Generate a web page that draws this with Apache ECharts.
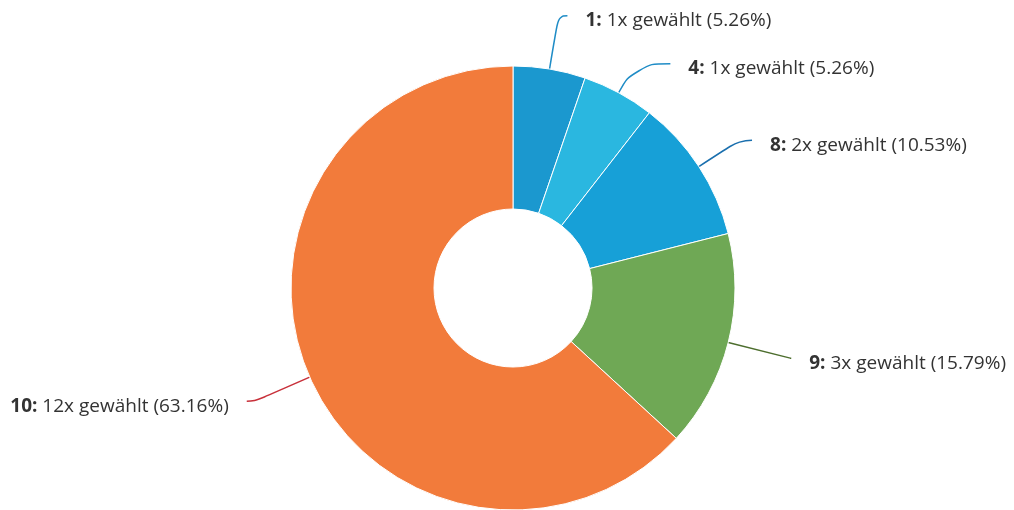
<!DOCTYPE html>
<html>
<head>
<meta charset="utf-8">
<script src="https://cdn.jsdelivr.net/npm/echarts@6/dist/echarts.min.js"></script>
<style>
  html, body { margin: 0; padding: 0; background: #fff; }
  #chart { width: 1014px; height: 510px; }
</style>
</head>
<body>
<div id="chart"></div>
<script>
// Answer options and how often each was chosen
const categories = ['1', '4', '8', '9', '10'];
const counts = [1, 1, 2, 3, 12];
const percents = [5.26, 5.26, 10.53, 15.79, 63.16];

// Slice and connector styling
const sliceColors = ['#1b98cf', '#2ab7e0', '#17a0d7', '#6fa855', '#f27b3b'];
const lineColors = ['#1f8cc6', '#1f8cc6', '#1a6fae', '#4d6e2e', '#c8303a'];
const connectorLengths = [[54, 9], [33, 36], [48, 13], [64, 1], [60, 8]];

const data = categories.map((name, i) => ({
  name: name,
  value: counts[i],
  pct: percents[i],
  itemStyle: { color: sliceColors[i] },
  labelLine: {
    length: connectorLengths[i][0],
    length2: connectorLengths[i][1],
    lineStyle: { color: lineColors[i] }
  }
}));

const chart = echarts.init(document.getElementById('chart'), null, { renderer: 'canvas' });
chart.setOption({
  animation: false,
  series: [{
    type: 'pie',
    center: [513, 288],
    radius: [79, 222],
    startAngle: 90,
    clockwise: true,
    avoidLabelOverlap: false,
    data: data,
    itemStyle: { borderColor: '#ffffff', borderWidth: 1 },
    label: {
      show: true,
      position: 'outside',
      distanceToLabelLine: 18,
      padding: [10, 0, 0, 0],
      fontFamily: 'Open Sans',
      fontSize: 19,
      color: '#333333',
      formatter: p => '{b|' + p.name + ':} ' + p.value + 'x gewählt (' + p.data.pct.toFixed(2) + '%)',
      rich: {
        b: { fontFamily: 'Open Sans', fontSize: 19, fontWeight: 'bold', color: '#333333' }
      }
    },
    labelLine: {
      show: true,
      smooth: 0.5,
      lineStyle: { width: 1.5 }
    }
  }]
});
</script>
</body>
</html>
